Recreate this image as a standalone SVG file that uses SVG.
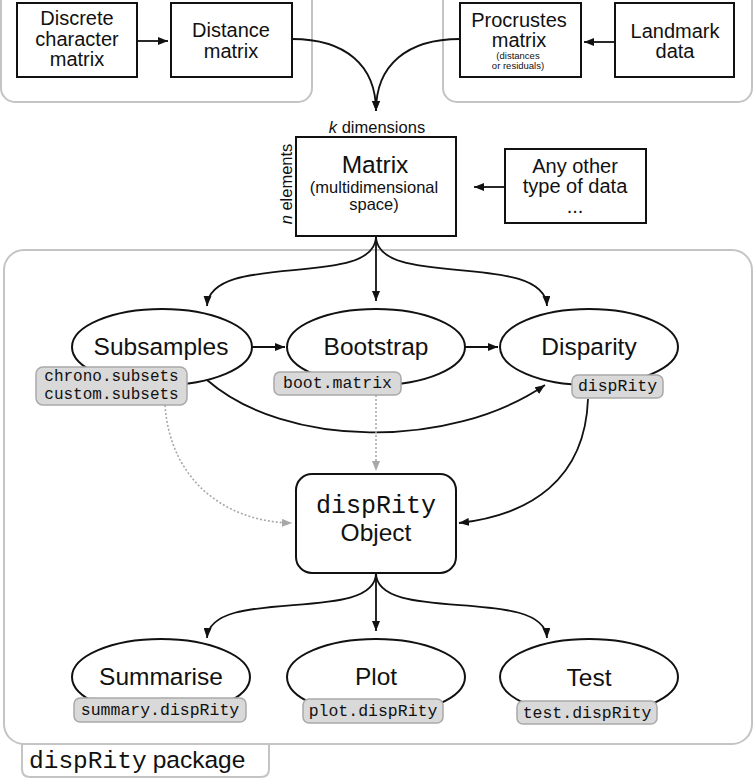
<svg xmlns="http://www.w3.org/2000/svg" width="755" height="778" viewBox="0 0 755 778">
<style>
.frame{fill:none;stroke:#c4c4c4;stroke-width:2}
.box{fill:#fff;stroke:#111;stroke-width:2}
.pill{fill:#d9d9d9;stroke:#a9a9a9;stroke-width:1.5}
.t{font-family:"Liberation Sans",Arial,Helvetica,sans-serif;fill:#111;text-anchor:middle}
.m{font-family:"Liberation Mono","Courier New",monospace;fill:#111;text-anchor:middle}
.c{fill:none;stroke:#111;stroke-width:1.8}
.d{fill:none;stroke:#a8a8a8;stroke-width:1.6;stroke-dasharray:2 2}
</style>
<defs>
<marker id="ah" markerUnits="userSpaceOnUse" markerWidth="10" markerHeight="8" refX="10" refY="4" orient="auto"><path d="M0,0 L10,4 L0,8 z" fill="#111"/></marker>
<marker id="ahg" markerUnits="userSpaceOnUse" markerWidth="10" markerHeight="8" refX="10" refY="4" orient="auto"><path d="M0,0 L10,4 L0,8 z" fill="#a8a8a8"/></marker>
</defs>
<rect width="755" height="778" fill="#fff"/>

<g id="frames">
<rect class="frame" x="1" y="-20" width="311" height="122" rx="14"/>
<rect class="frame" x="443" y="-20" width="309" height="122" rx="14"/>
<rect class="frame" x="4" y="250" width="748" height="494" rx="20"/>
<path class="frame" d="M22,744 V769 Q22,777 30,777 H261 Q269,777 269,769 V744"/>
<text x="29" y="768" font-size="24.5"><tspan class="m" style="text-anchor:start">dispRity</tspan><tspan class="t" style="text-anchor:start" dx="6">package</tspan></text>
</g>

<g id="discrete">
<rect class="box" x="17" y="3" width="120" height="74"/>
<text class="t" font-size="20" x="77" y="25">Discrete</text>
<text class="t" font-size="20" x="77" y="46">character</text>
<text class="t" font-size="20" x="77" y="66">matrix</text>
</g>
<g id="distance">
<rect class="box" x="171" y="3" width="121" height="74"/>
<text class="t" font-size="20" x="231" y="37">Distance</text>
<text class="t" font-size="20" x="231" y="58">matrix</text>
</g>
<g id="procrustes">
<rect class="box" x="460" y="3" width="121" height="74"/>
<text class="t" font-size="20" x="519" y="27">Procrustes</text>
<text class="t" font-size="20" x="519" y="47">matrix</text>
<text class="t" font-size="9.5" x="518" y="58.5">(distances</text>
<text class="t" font-size="9.5" x="518" y="69">or residuals)</text>
</g>
<g id="landmark">
<rect class="box" x="615" y="3" width="119" height="74"/>
<text class="t" font-size="20" x="675" y="38">Landmark</text>
<text class="t" font-size="20" x="675" y="58">data</text>
</g>
<g id="matrix">
<text class="t" font-size="16.5" x="377" y="133"><tspan font-style="italic">k</tspan> dimensions</text>
<text class="t" font-size="16.5" transform="translate(292,184) rotate(-90)"><tspan font-style="italic">n</tspan> elements</text>
<rect class="box" x="296" y="137" width="160" height="99"/>
<text class="t" font-size="24.5" x="375" y="173">Matrix</text>
<text class="t" font-size="16.5" x="374" y="193">(multidimensional</text>
<text class="t" font-size="16.5" x="374" y="210">space)</text>
</g>
<g id="other">
<rect class="box" x="505" y="149" width="141" height="74"/>
<text class="t" font-size="20" x="575" y="173">Any other</text>
<text class="t" font-size="20" x="575" y="193">type of data</text>
<text class="t" font-size="20" x="575" y="213">...</text>
</g>

<g id="subsamples">
<ellipse class="box" cx="162" cy="347" rx="90" ry="38"/>
<text class="t" font-size="24.5" x="161" y="355">Subsamples</text>
<rect class="pill" x="36" y="367" width="151" height="38" rx="7"/>
<text class="m" font-size="16" x="111.5" y="380.5">chrono.subsets</text>
<text class="m" font-size="16" x="111.5" y="398.5">custom.subsets</text>
</g>
<g id="bootstrap">
<ellipse class="box" cx="376" cy="347" rx="89" ry="38"/>
<text class="t" font-size="24.5" x="376" y="355">Bootstrap</text>
<rect class="pill" x="274" y="372" width="127" height="23" rx="6"/>
<text class="m" font-size="16.5" x="337.5" y="388">boot.matrix</text>
</g>
<g id="disparity">
<ellipse class="box" cx="589" cy="347" rx="89" ry="38"/>
<text class="t" font-size="24.5" x="589" y="355">Disparity</text>
<rect class="pill" x="572" y="375" width="91" height="23" rx="6"/>
<text class="m" font-size="16.5" x="617.5" y="391">dispRity</text>
</g>
<g id="object">
<rect class="box" x="296" y="474" width="160" height="99" rx="16"/>
<text class="m" font-size="25" x="376" y="513">dispRity</text>
<text class="t" font-size="24.5" x="376" y="541">Object</text>
</g>
<g id="summarise">
<ellipse class="box" cx="161" cy="677" rx="89" ry="38"/>
<text class="t" font-size="24.5" x="161" y="685">Summarise</text>
<rect class="pill" x="74" y="698" width="172" height="24" rx="6"/>
<text class="m" font-size="16.5" x="160" y="715">summary.dispRity</text>
</g>
<g id="plot">
<ellipse class="box" cx="376" cy="677" rx="89" ry="38"/>
<text class="t" font-size="24.5" x="376" y="685">Plot</text>
<rect class="pill" x="303" y="699" width="140" height="24" rx="6"/>
<text class="m" font-size="16.5" x="373" y="716">plot.dispRity</text>
</g>
<g id="test">
<ellipse class="box" cx="589" cy="677" rx="89" ry="38"/>
<text class="t" font-size="24.5" x="589" y="686">Test</text>
<rect class="pill" x="517" y="701" width="140" height="23" rx="6"/>
<text class="m" font-size="16.5" x="587" y="718">test.dispRity</text>
</g>

<g id="connectors">
<path class="c" marker-end="url(#ah)" d="M137,41 L168,41"/>
<path class="c" marker-end="url(#ah)" d="M615,42 L584,42"/>
<path class="c" marker-end="url(#ah)" d="M292,39 C345,39 376,65 376,111"/>
<path class="c" marker-end="url(#ah)" d="M460,39 C407,39 376,65 376,111"/>
<path class="c" marker-end="url(#ah)" d="M505,187 L474,187"/>
<path class="c" marker-end="url(#ah)" d="M376,236 L376,301"/>
<path class="c" marker-end="url(#ah)" d="M376,236 C376,290 210,250 207,306"/>
<path class="c" marker-end="url(#ah)" d="M376,236 C376,290 544,250 547,306"/>
<path class="c" marker-end="url(#ah)" d="M252,347 L285,347"/>
<path class="c" marker-end="url(#ah)" d="M465,347 L498,347"/>
<path class="c" marker-end="url(#ah)" d="M207,380 C285,448 450,450 545,385"/>
<path class="d" marker-end="url(#ahg)" d="M165,405 C170,480 225,522 292,523"/>
<path class="d" marker-end="url(#ahg)" d="M376,395 L376,471"/>
<path class="c" marker-end="url(#ah)" d="M588,399 C585,480 530,515 459,523"/>
<path class="c" marker-end="url(#ah)" d="M376,573 L376,631"/>
<path class="c" marker-end="url(#ah)" d="M376,573 C376,625 210,585 207,638"/>
<path class="c" marker-end="url(#ah)" d="M376,573 C376,625 544,585 547,638"/>
</g>
</svg>
